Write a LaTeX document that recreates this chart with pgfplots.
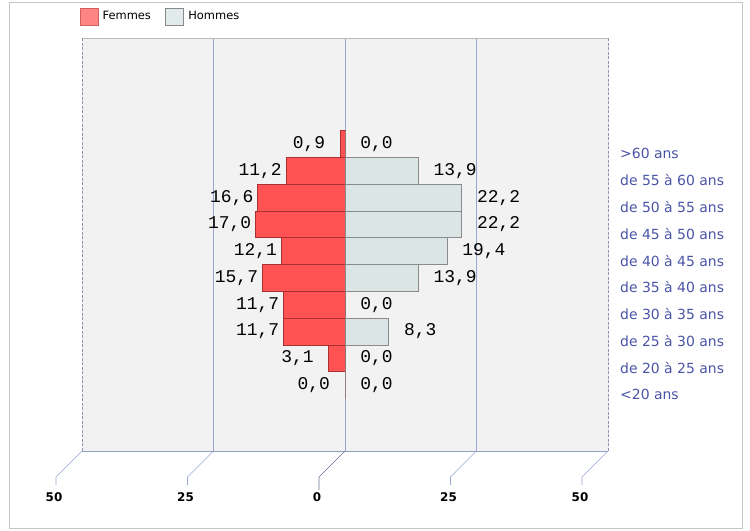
\documentclass[border=0pt]{standalone}
\usepackage{pgfplots}
\pgfplotsset{compat=1.18}
\usepackage{pgfplotstable}
\usepackage{fontspec}
\usepackage{calc}
\setmainfont{DejaVu Sans}
\setmonofont{Liberation Mono}
\definecolor{femfill}{HTML}{FF5252}
\definecolor{femedge}{HTML}{A83232}
\definecolor{legfem}{HTML}{FF8585}
\definecolor{legfemedge}{HTML}{D06060}
\definecolor{homfill}{HTML}{DCE5E5}
\definecolor{leghom}{HTML}{E2EBEB}
\definecolor{homedge}{HTML}{8A8A8A}
\definecolor{gridc}{HTML}{97A5D2}
\definecolor{catc}{HTML}{4A54A6}
\definecolor{bgc}{HTML}{F2F2F2}
\definecolor{framec}{HTML}{C6C6C6}
\newcommand\ttlabel{\ttfamily\fontsize{18}{18}\selectfont}

\pgfplotstableread{
y F H
0 0.0 0.0
1 3.1 0.0
2 11.7 8.3
3 11.7 0.0
4 15.7 13.9
5 12.1 19.4
6 17.0 22.2
7 16.6 22.2
8 11.2 13.9
9 0.9 0.0
}\pyramid

\begin{document}
\begin{tikzpicture}
\useasboundingbox (0,0) rectangle (750bp,531bp);
\draw[framec, line width=1bp] (9bp,2bp) rectangle (742bp,528bp);
\begin{axis}[
  at={(82bp,80bp)}, anchor=south west,
  scale only axis, width=526bp, height=413bp,
  xmin=-50, xmax=50, ymin=-2.46, ymax=12.96,
  clip=false,
  axis line style={draw=none},
  axis background/.style={fill=bgc},
  xtick={-50,-25,0,25,50},
  xticklabels={50,25,0,25,50},
  major tick length=0pt,
  xmajorgrids, grid style={color=gridc, line width=0.8bp},
  xticklabel style={font=\fontsize{12}{12}\selectfont\bfseries, anchor=center, xshift=-28bp, yshift=-46bp},
  ytick={0,...,9},
  yticklabels={<20 ans, de 20 à 25 ans, de 25 à 30 ans, de 30 à 35 ans, de 35 à 40 ans, de 40 à 45 ans, de 45 à 50 ans, de 50 à 55 ans, de 55 à 60 ans, >60 ans},
  yticklabel pos=right,
  yticklabel style={font=\fontsize{14}{14}\selectfont, text=catc, anchor=west, inner sep=0pt, xshift=12bp, yshift=-9.5bp},
  legend columns=2,
  legend image code/.code={\draw[#1] (0bp,-8.5bp) rectangle (18bp,8.5bp);},
  legend style={at={(0,1)}, anchor=west, yshift=21.5bp, xshift=-2.5bp, draw=none, fill=none, inner sep=0pt, font=\fontsize{11.5}{11.5}\selectfont, nodes={inner sep=2.5bp}, /tikz/every odd column/.append style={column sep=2bp}, /tikz/every even column/.append style={column sep=12bp}},
]
\addlegendimage{fill=legfem, draw=legfemedge}
\addlegendentry{Femmes}
\addlegendimage{fill=leghom, draw=homedge}
\addlegendentry{Hommes}

\addplot[xbar, bar width=1, bar shift=0pt, fill=femfill, draw=femedge, line width=0.8bp, forget plot,
  point meta=\thisrow{F},
  nodes near coords={\makebox[\widthof{00,0}][l]{\pgfmathprintnumber[fixed,fixed zerofill,precision=1,use comma,assume math mode=true]{\pgfplotspointmeta}}},
  nodes near coords style={font=\ttlabel, anchor=east, inner sep=0pt, xshift=-4bp, text=black}]
  table[x expr=-\thisrow{F}, y=y] {\pyramid};

\addplot[xbar, bar width=1, bar shift=0pt, fill=homfill, draw=homedge, line width=0.8bp, forget plot,
  point meta=\thisrow{H},
  nodes near coords={\pgfmathprintnumber[fixed,fixed zerofill,precision=1,use comma,assume math mode=true]{\pgfplotspointmeta}},
  nodes near coords style={font=\ttlabel, anchor=west, inner sep=0pt, xshift=15bp, text=black}]
  table[x=H, y=y] {\pyramid};

\draw[gray!55, line width=0.8bp] (rel axis cs:0,1) -- (rel axis cs:1,1);
\draw[gridc!80!gray, line width=0.8bp] (rel axis cs:0,0) -- (rel axis cs:1,0);
\draw[bgc, line width=1bp] (rel axis cs:0,0) -- (rel axis cs:0,1);
\draw[bgc, line width=1bp] (rel axis cs:1,0) -- (rel axis cs:1,1);
\draw[gridc!60!gray, line width=0.9bp, dash pattern=on 3bp off 1.5bp] (rel axis cs:0,0) -- (rel axis cs:0,1);
\draw[gridc!60!gray, line width=0.9bp, dash pattern=on 3bp off 1.5bp] (rel axis cs:1,0) -- (rel axis cs:1,1);
\coordinate (ta) at (axis cs:-50,-2.46);
\coordinate (tb) at (axis cs:-25,-2.46);
\coordinate (tc) at (axis cs:0,-2.46);
\coordinate (td) at (axis cs:25,-2.46);
\coordinate (te) at (axis cs:50,-2.46);
\end{axis}
\foreach \t in {ta,tb,td,te}{
  \draw[gridc, line width=0.7bp] (\t) -- ++(-26bp,-26bp) -- ++(0,-8bp);
}
\draw[gridc!70!black, line width=0.7bp] (tc) -- ++(-26bp,-26bp) -- ++(0,-13bp);
\end{tikzpicture}
\end{document}
